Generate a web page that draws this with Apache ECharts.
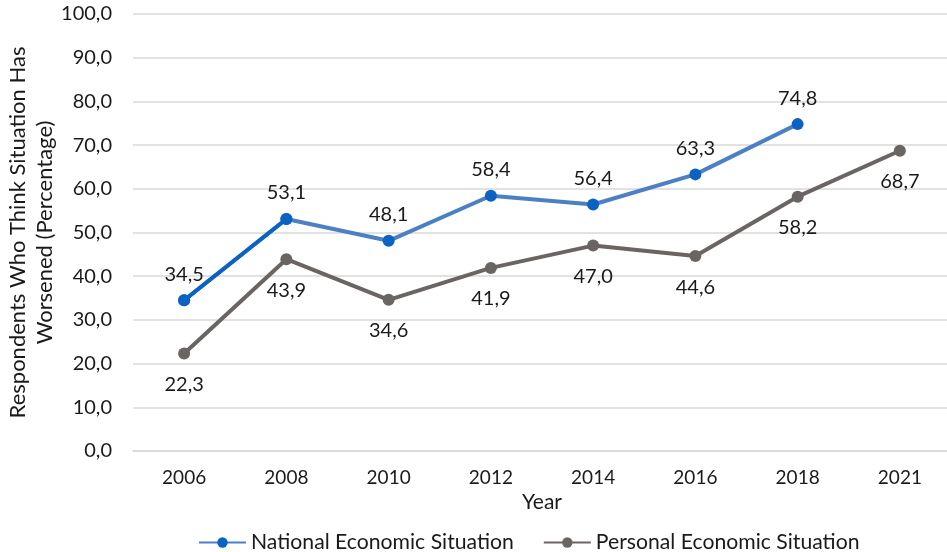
<!DOCTYPE html>
<html><head><meta charset="utf-8">
<script src="https://cdn.jsdelivr.net/npm/echarts@6/dist/echarts.min.js"></script>
<style>html,body{margin:0;padding:0;background:#fff}#c{width:947px;height:552px}</style>
</head><body><div id="c"></div>
<script>
const years = ['2006','2008','2010','2012','2014','2016','2018','2021'];
const national = [34.5, 53.1, 48.1, 58.4, 56.4, 63.3, 74.8, null];
const personal = [22.3, 43.9, 34.6, 41.9, 47.0, 44.6, 58.2, 68.7];
const nationalFirstSegment = [34.5, 53.1, null, null, null, null, null, null];
const yTicks = {min: 0, max: 100, interval: 10};

const DARK = '#0A62C2', LIGHT = '#4C80C4', GRAY = '#6A6462';
const FONT = 'Lato';
const fmt = v => v.toFixed(1).replace('.', ',');

const chart = echarts.init(document.getElementById('c'));
chart.setOption({
  animation: false,
  textStyle: {fontFamily: FONT},
  grid: {left: 133, top: 14, width: 818, height: 437, containLabel: false, outerBoundsMode: 'none'},
  legend: {
    data: ['National Economic Situation', 'Personal Economic Situation'],
    top: 527, left: 193,
    itemWidth: 47, itemHeight: 13, itemGap: 29,
    textStyle: {fontFamily: FONT, fontSize: 21.2, color: '#1a1a1a'}
  },
  xAxis: {
    type: 'category', data: years, boundaryGap: true,
    name: 'Year', nameLocation: 'middle', nameGap: 39,
    nameTextStyle: {fontFamily: FONT, fontSize: 21, color: '#1a1a1a'},
    axisLine: {show: true, lineStyle: {color: '#D9D9D9', width: 1.5}},
    axisTick: {show: false},
    axisLabel: {fontFamily: FONT, fontSize: 19, color: '#1a1a1a', margin: 17}
  },
  yAxis: {
    type: 'value', min: yTicks.min, max: yTicks.max, interval: yTicks.interval,
    name: 'Respondents Who Think Situation Has\nWorsened (Percentage)',
    nameLocation: 'middle', nameGap: 75, nameRotate: 90, nameMoveOverlap: false,
    nameTextStyle: {fontFamily: FONT, fontSize: 22, color: '#1a1a1a', lineHeight: 27, align: 'center'},
    axisLine: {show: false}, axisTick: {show: false},
    splitLine: {lineStyle: {color: '#D9D9D9', width: 1.5}},
    axisLabel: {fontFamily: FONT, fontSize: 20, color: '#1a1a1a', margin: 21, formatter: v => fmt(v)}
  },
  series: [
    {
      name: 'National Economic Situation', type: 'line', data: national,
      symbol: 'circle', symbolSize: 12, z: 3,
      lineStyle: {color: LIGHT, width: 4},
      itemStyle: {color: DARK},
      label: {show: true, position: 'top', distance: 10, fontFamily: FONT, fontSize: 20, color: '#1a1a1a',
        formatter: p => fmt(p.value)}
    },
    {
      name: 'national-first', type: 'line', data: nationalFirstSegment,
      symbol: 'circle', symbolSize: 12, z: 4,
      lineStyle: {color: DARK, width: 4},
      itemStyle: {color: DARK},
      label: {show: false}, silent: true
    },
    {
      name: 'Personal Economic Situation', type: 'line', data: personal,
      symbol: 'circle', symbolSize: 12, z: 2,
      lineStyle: {color: GRAY, width: 4},
      itemStyle: {color: GRAY},
      label: {show: true, position: 'bottom', distance: 15, fontFamily: FONT, fontSize: 20, color: '#1a1a1a',
        formatter: p => fmt(p.value)}
    }
  ]
});
</script></body></html>
